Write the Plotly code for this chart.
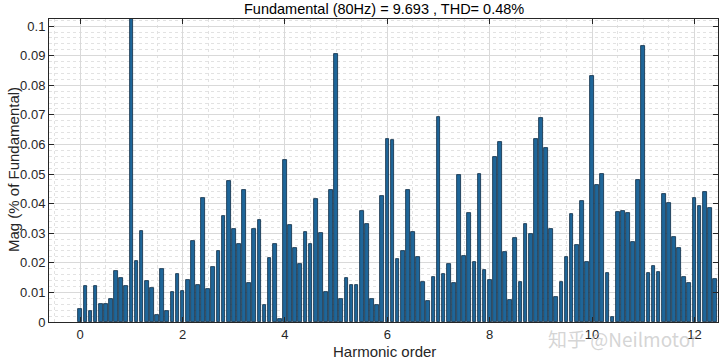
import plotly.graph_objects as go

harmonic_order = [round(i * 0.1, 1) for i in range(125)]
magnitude = [
    0.0045, 0.0123, 0.0038, 0.0123, 0.0062, 0.0061, 0.0077, 0.0171, 0.0148, 0.0120,
    100.0, 0.0207, 0.0309, 0.0137, 0.0114, 0.0023, 0.0180, 0.0037, 0.0101, 0.0162,
    0.0105, 0.0142, 0.0274, 0.0124, 0.0419, 0.0113, 0.0186, 0.0239, 0.0358, 0.0476,
    0.0316, 0.0264, 0.0445, 0.0131, 0.0313, 0.0345, 0.0059, 0.0215, 0.0262, 0.0011,
    0.0546, 0.0328, 0.0251, 0.0196, 0.0303, 0.0264, 0.0417, 0.0302, 0.0100, 0.0445,
    0.0907, 0.0077, 0.0149, 0.0125, 0.0126, 0.0375, 0.0330, 0.0077, 0.0059, 0.0426,
    0.0620, 0.0614, 0.0212, 0.0239, 0.0447, 0.0303, 0.0218, 0.0135, 0.0070, 0.0153,
    0.0694, 0.0163, 0.0195, 0.0131, 0.0498, 0.0224, 0.0369, 0.0202, 0.0499, 0.0176,
    0.0143, 0.0559, 0.0608, 0.0238, 0.0073, 0.0285, 0.0136, 0.0330, 0.0296, 0.0618,
    0.0688, 0.0587, 0.0313, 0.0083, 0.0136, 0.0221, 0.0364, 0.0260, 0.0408, 0.0203,
    0.0832, 0.0464, 0.0501, 0.0166, 0.0017, 0.0373, 0.0375, 0.0367, 0.0269, 0.0481,
    0.0932, 0.0166, 0.0189, 0.0170, 0.0431, 0.0403, 0.0286, 0.0249, 0.0152, 0.0131,
    0.0420, 0.0393, 0.0441, 0.0385, 0.0144,
]
x_ticks = [0, 2, 4, 6, 8, 10, 12]
y_ticks = [0, 0.01, 0.02, 0.03, 0.04, 0.05, 0.06, 0.07, 0.08, 0.09, 0.1]
y_tick_labels = ["0", "0.01", "0.02", "0.03", "0.04", "0.05", "0.06", "0.07", "0.08", "0.09", "0.1"]
title_text = "Fundamental (80Hz) = 9.693 , THD= 0.48%"
x_title = "Harmonic order"
y_title = "Mag (% of Fundamental)"

FONT = "Liberation Sans, Arial, sans-serif"
AX = "#262626"
W, H = 720, 359
L, R, T, B = 49, 2, 19, 37

fig = go.Figure(go.Bar(
    x=harmonic_order, y=magnitude, width=0.072,
    marker=dict(color="#1f6699", line=dict(color="#0d2b44", width=0.8)),
))

fig.update_layout(
    width=W, height=H,
    margin=dict(l=L, r=R, t=T, b=B, autoexpand=False),
    paper_bgcolor="white", plot_bgcolor="white",
    showlegend=False,
    font=dict(family=FONT, color=AX, size=13),
    bargap=0,
)
fig.update_xaxes(
    range=[-0.61, 12.46], tickvals=x_ticks, ticks="inside", ticklen=5, tickcolor=AX,
    showline=True, linecolor=AX, linewidth=1, mirror="ticks", automargin=False,
    showgrid=True, gridcolor="#d9d9d9", gridwidth=1, zeroline=False,
    minor=dict(dtick=0.5, showgrid=True, gridcolor="#e2e2e2", griddash="dot", ticks=""),
    tickfont=dict(size=13, color=AX),
)
fig.update_yaxes(
    range=[0, 0.1024], tickvals=y_ticks, ticktext=y_tick_labels, ticks="inside", ticklen=5,
    tickcolor=AX, showline=True, linecolor=AX, linewidth=1, mirror="ticks", automargin=False,
    showgrid=True, gridcolor="#d9d9d9", gridwidth=1, zeroline=False,
    minor=dict(dtick=0.002, showgrid=True, gridcolor="#e2e2e2", griddash="dot", ticks=""),
    tickfont=dict(size=13, color=AX),
)

pw = W - L - R
ph = H - T - B
def px(xp):
    return (xp - L) / pw
def py(yp):
    return (H - B - yp) / ph

fig.add_annotation(text=title_text, xref="paper", yref="paper", x=px(384), y=py(9),
                   xanchor="center", yanchor="middle", showarrow=False,
                   font=dict(family=FONT, size=14.5, color="black"))
fig.add_annotation(text=x_title, xref="paper", yref="paper", x=px(384), y=py(351),
                   xanchor="center", yanchor="middle", showarrow=False,
                   font=dict(family=FONT, size=15, color=AX))
fig.add_annotation(text=y_title, xref="paper", yref="paper", x=px(13), y=py(170),
                   xanchor="center", yanchor="middle", showarrow=False, textangle=-90,
                   font=dict(family=FONT, size=15, color=AX))
fig.add_annotation(
    text="知乎 @Neilmotor", xref="paper", yref="paper", x=px(700), y=py(338),
    xanchor="right", yanchor="middle", showarrow=False,
    font=dict(family="Noto Sans CJK SC, sans-serif", size=19, color="rgba(195,195,195,0.7)"),
)

fig.write_html("out.html", config={"displayModeBar": False},
               post_script="document.body.style.margin='0';document.body.style.overflow='hidden';")
